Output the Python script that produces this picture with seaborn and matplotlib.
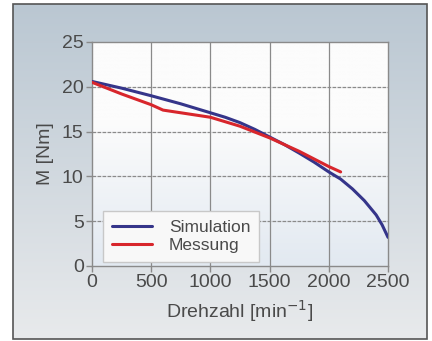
import numpy as np
import pandas as pd
import matplotlib
matplotlib.use("Agg")
import matplotlib.pyplot as plt
import seaborn as sns

sim_rpm = [0, 250, 500, 750, 1000, 1125, 1250, 1375, 1500, 1625, 1750, 1875,
           2000, 2100, 2200, 2300, 2400, 2450, 2500]
sim_torque = [20.6, 19.85, 19.0, 18.1, 17.1, 16.6, 16.0, 15.25, 14.4, 13.55, 12.6, 11.6,
              10.5, 9.7, 8.6, 7.3, 5.7, 4.6, 3.2]
mes_rpm = [0, 250, 500, 600, 800, 1000, 1250, 1500, 1750, 2000, 2100]
mes_torque = [20.5, 19.2, 18.0, 17.4, 17.0, 16.6, 15.6, 14.3, 12.8, 11.1, 10.5]
xticks = [0, 500, 1000, 1500, 2000, 2500]
yticks = [0, 5, 10, 15, 20, 25]

df = pd.concat([
    pd.DataFrame({"rpm": sim_rpm, "M": sim_torque, "Serie": "Simulation"}),
    pd.DataFrame({"rpm": mes_rpm, "M": mes_torque, "Serie": "Messung"}),
])

sns.set_style("white")
plt.rcParams['font.family'] = ['Liberation Sans', 'DejaVu Sans']

fig = plt.figure(figsize=(4.32, 3.41), dpi=100)
fig.patch.set_facecolor("white")

# background panel with gradient
bg = fig.add_axes([0, 0, 1, 1], zorder=-10)
grad = np.linspace(0, 1, 256)[:, None]
top = np.array([186, 199, 210]) / 255
bot = np.array([232, 234, 236]) / 255
img = top[None, None, :] * (1 - grad[..., None]) + bot[None, None, :] * grad[..., None]
img = np.repeat(img, 2, axis=1)
bg.imshow(img, extent=[13 / 432, 427 / 432, 2 / 341, 337 / 341], aspect="auto",
          transform=bg.transAxes)
bg.add_patch(plt.Rectangle((13 / 432, 2 / 341), 414 / 432, 335 / 341, fill=False,
                           edgecolor="#555555", linewidth=1.2, transform=bg.transAxes))
bg.set_xlim(0, 1); bg.set_ylim(0, 1)
bg.axis("off")

ax = fig.add_axes([92 / 432, 1 - 266 / 341, 296 / 432, 224 / 341])
# plot area gradient
pa_top = np.array([252, 252, 252]) / 255
pa_bot = np.array([226, 233, 241]) / 255
g2 = np.clip((np.linspace(0, 1, 256) - 0.35) / 0.65, 0, 1)[:, None]
img2 = pa_top[None, None, :] * (1 - g2[..., None]) + pa_bot[None, None, :] * g2[..., None]
img2 = np.repeat(img2, 2, axis=1)
ax.imshow(img2, extent=[0, 2500, 0, 25], aspect="auto", zorder=0)

sns.lineplot(data=df, x="rpm", y="M", hue="Serie", ax=ax,
             palette={"Simulation": "#35358a", "Messung": "#d8262c"},
             linewidth=2.2, legend=True, zorder=3, sort=False)
ax.set_xlim(0, 2500)
ax.set_ylim(0, 25)
ax.set_xticks(xticks)
ax.set_yticks(yticks)
for x in xticks[1:-1]:
    ax.axvline(x, color="#8a8a8a", linewidth=0.9, zorder=1)
for y in yticks[1:-1]:
    ax.axhline(y, color="#8a8a8a", linewidth=0.9, linestyle=(0, (3, 1)), zorder=1)
for s in ax.spines.values():
    s.set_color("#8a8a8a")
    s.set_linewidth(1.0)
ax.tick_params(axis="both", colors="#8a8a8a", labelcolor="#4a4a4a", labelsize=14,
               length=4, width=1, direction="out", left=True, bottom=True, pad=2)
ax.set_xlabel("Drehzahl [min$^{-1}$]", fontsize=14, color="#4a4a4a", labelpad=5)
ax.set_ylabel("M [Nm]", fontsize=14, color="#4a4a4a", labelpad=6)

leg = ax.legend(title=None, loc="lower left", bbox_to_anchor=(0.037, 0.02),
                borderaxespad=0, fontsize=12.5, frameon=True, fancybox=False,
                handlelength=2.3, labelspacing=0.15, borderpad=0.5,
                handletextpad=1.0, shadow=False)
leg.get_frame().set_facecolor("#f8f8f8")
leg.get_frame().set_edgecolor("#c8c8c8")
leg.get_frame().set_alpha(1)
for t in leg.get_texts():
    t.set_color("#4a4a4a")

fig.savefig("out.png", dpi=100)
